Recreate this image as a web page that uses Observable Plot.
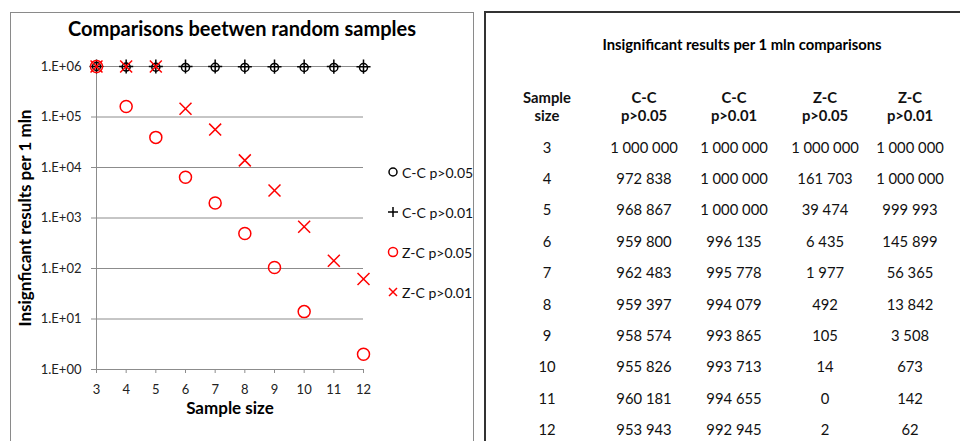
<!DOCTYPE html>
<html><head><meta charset="utf-8">
<script src="https://cdn.jsdelivr.net/npm/d3@7"></script>
<script src="https://cdn.jsdelivr.net/npm/@observablehq/plot@0.6"></script>
<style>
body{margin:0;background:#fff;font-family:Lato,"Open Sans",sans-serif;color:#000;width:960px;height:441px;overflow:hidden;position:relative}
#leftbox{position:absolute;left:10px;top:12px;width:462px;height:450px;border:1.5px solid #8a8a8a;}
#rightbox{position:absolute;left:484px;top:11px;width:520px;height:450px;border:2px solid #333;}
#title{position:absolute;left:10px;width:464px;top:15px;text-align:center;font-weight:bold;font-size:20px;line-height:26px}
#chart{position:absolute;left:0;top:0}
#legend{position:absolute;left:386px;top:152px;font-size:14px;color:#111}
.lg{height:40px;display:flex;align-items:center;white-space:nowrap}
.lg svg{margin-right:2px}
#ttitle{position:absolute;left:485px;width:514px;top:34px;text-align:center;font-weight:bold;font-size:14.8px;line-height:20px}
#tbl{position:absolute;left:500px;top:88px;border-collapse:collapse;table-layout:fixed;font-size:14.8px;color:#111}
#tbl th{font-weight:bold;vertical-align:top;line-height:18px;height:43px;padding:0;text-align:center}
#tbl td{height:31.4px;padding:0;text-align:center;vertical-align:middle;white-space:nowrap;line-height:18px}
</style>
</head><body>
<div id="leftbox"></div>
<div id="rightbox"></div>
<div id="title"></div>
<div id="chart"></div>
<div id="legend"></div>
<div id="ttitle"></div>
<table id="tbl"></table>
<script>
const sampleSizes = [3, 4, 5, 6, 7, 8, 9, 10, 11, 12];
const ccP05 = [1000000, 972838, 968867, 959800, 962483, 959397, 958574, 955826, 960181, 953943];
const ccP01 = [1000000, 1000000, 1000000, 996135, 995778, 994079, 993865, 993713, 994655, 992945];
const zcP05 = [1000000, 161703, 39474, 6435, 1977, 492, 105, 14, 0, 2];
const zcP01 = [1000000, 1000000, 999993, 145899, 56365, 13842, 3508, 673, 142, 62];
const seriesNames = ["C-C p>0.05", "C-C p>0.01", "Z-C p>0.05", "Z-C p>0.01"];
const yTicks = [1, 10, 100, 1000, 10000, 100000, 1000000];
const chartTitle = "Comparisons beetwen random samples";
const xLabel = "Sample size";
const yLabel = "Insignficant results per 1 mln";
const tableTitle = "Insignificant results per 1 mln comparisons";
const tableHeaders = [["Sample", "size"], ["C-C", "p>0.05"], ["C-C", "p>0.01"], ["Z-C", "p>0.05"], ["Z-C", "p>0.01"]];

const grey = "#8c8c8c";
const red = "#ff0000";
const fmtE = d => "1.E+" + String(Math.round(Math.log10(d))).padStart(2, "0");

const mk = (vals) => sampleSizes.map((s, i) => ({size: s, value: vals[i]})).filter(d => d.value > 0);

const chart = Plot.plot({
  width: 480, height: 441,
  marginLeft: 96, marginRight: 117, marginTop: 66, marginBottom: 72,
  style: {fontFamily: "Lato, 'Open Sans', sans-serif", fontSize: "13px", color: "#222", background: "transparent", overflow: "visible"},
  x: {type: "linear", domain: [3, 12]},
  y: {type: "log", domain: [1, 1000000]},
  marks: [
    Plot.gridY(yTicks, {stroke: grey, strokeOpacity: 1}),
    Plot.ruleX([3], {stroke: grey}),
    Plot.axisY(yTicks, {tickSize: 5, tickPadding: 10, stroke: grey, tickFormat: fmtE, label: null}),
    Plot.axisX(sampleSizes, {tickSize: 4, tickPadding: 11, stroke: grey, tickFormat: d => String(d), label: null}),
    Plot.dot(mk(ccP05), {x: "size", y: "value", symbol: "circle", r: 4, stroke: "#000", strokeWidth: 1.5, fill: "none"}),
    Plot.dot(mk(ccP01), {x: "size", y: "value", symbol: "plus", r: 4.6, stroke: "#000", strokeWidth: 1.5, fill: "none"}),
    Plot.dot(mk(zcP05), {x: "size", y: "value", symbol: "circle", r: 6, stroke: red, strokeWidth: 1.5, fill: "none"}),
    Plot.dot(mk(zcP01), {x: "size", y: "value", symbol: "times", r: 5.5, stroke: red, strokeWidth: 1.5, fill: "none"}),
    Plot.text([xLabel], {frameAnchor: "bottom", dy: 44, fontWeight: "bold", fontSize: 17, fill: "#000"}),
    Plot.text([yLabel], {frameAnchor: "left", textAnchor: "middle", dx: -71, rotate: -90, fontWeight: "bold", fontSize: 17, fill: "#000"})
  ]
});
document.getElementById("chart").appendChild(chart);
document.getElementById("title").textContent = chartTitle;
document.getElementById("ttitle").textContent = tableTitle;

// Legend
const legendSyms = [
  '<circle cx="7" cy="7" r="4" fill="none" stroke="#000" stroke-width="1.5"/>',
  '<path d="M2,7H12M7,2V12" stroke="#000" stroke-width="1.5"/>',
  '<circle cx="7" cy="7" r="4.5" fill="none" stroke="' + red + '" stroke-width="1.5"/>',
  '<path d="M3,3L11,11M11,3L3,11" stroke="' + red + '" stroke-width="1.5"/>'
];
const leg = document.getElementById("legend");
seriesNames.forEach((name, i) => {
  const row = document.createElement("div");
  row.className = "lg";
  row.innerHTML = '<svg width="14" height="14">' + legendSyms[i] + '</svg>';
  const sp = document.createElement("span");
  sp.textContent = name;
  row.appendChild(sp);
  leg.appendChild(row);
});

// Table
const loc = d3.formatLocale({decimal: ".", thousands: " ", grouping: [3], currency: ["", ""]});
const nf = loc.format(",d");
const tbl = document.getElementById("tbl");
const colW = [94, 100, 80, 102, 68];
const cg = document.createElement("colgroup");
colW.forEach(w => { const c = document.createElement("col"); c.style.width = w + "px"; cg.appendChild(c); });
tbl.appendChild(cg);
const thr = document.createElement("tr");
tableHeaders.forEach(h => {
  const th = document.createElement("th");
  h.forEach((s, j) => { if (j) th.appendChild(document.createElement("br")); th.appendChild(document.createTextNode(s)); });
  thr.appendChild(th);
});
tbl.appendChild(thr);
sampleSizes.forEach((s, i) => {
  const tr = document.createElement("tr");
  [String(s), nf(ccP05[i]), nf(ccP01[i]), nf(zcP05[i]), nf(zcP01[i])].forEach(v => {
    const td = document.createElement("td"); td.textContent = v; tr.appendChild(td);
  });
  tbl.appendChild(tr);
});
</script>
</body></html>
